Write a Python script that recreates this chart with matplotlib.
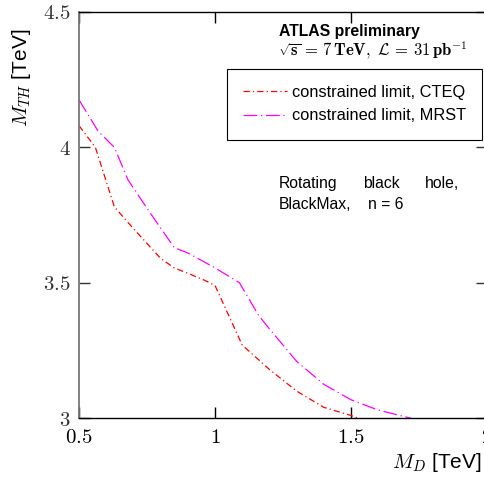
import matplotlib
matplotlib.use("Agg")
import matplotlib.pyplot as plt

plt.rcParams['font.family'] = ['Liberation Sans', 'DejaVu Sans']
plt.rcParams['mathtext.fontset'] = 'cm'

# Datos
md_cteq = [0.5, 0.56, 0.63, 0.70, 0.80, 0.85, 0.90, 0.96, 1.0, 1.05, 1.10, 1.20, 1.30, 1.40, 1.50, 1.55]
mth_cteq = [4.08, 4.0, 3.78, 3.70, 3.59, 3.555, 3.535, 3.51, 3.49, 3.38, 3.27, 3.18, 3.10, 3.04, 3.01, 2.99]

md_mrst = [0.5, 0.57, 0.63, 0.68, 0.76, 0.85, 0.90, 1.0, 1.09, 1.16, 1.20, 1.30, 1.40, 1.50, 1.60, 1.72]
mth_mrst = [4.175, 4.06, 4.0, 3.88, 3.76, 3.63, 3.61, 3.555, 3.5, 3.38, 3.33, 3.21, 3.125, 3.068, 3.03, 3.0]

xticks = [0.5, 1, 1.5, 2]
xtick_labels = ['$0.5$', '$1$', '$1.5$', '$2$']
yticks = [3, 3.5, 4, 4.5]
ytick_labels = ['$3$', '$3.5$', '$4$', '$4.5$']

fig = plt.figure(figsize=(4.85, 4.79), dpi=100)
ax = fig.add_axes([0.163, 0.127, 0.841, 0.848])

ax.plot(md_cteq, mth_cteq, color='#ff0000', lw=0.9, dashes=(5, 2.5, 1, 2.5),
        label='constrained limit, CTEQ')
ax.plot(md_mrst, mth_mrst, color='#ff00ff', lw=0.9, dashes=(11, 3, 1, 3),
        label='constrained limit, MRST')

ax.set_xlim(0.5, 2)
ax.set_ylim(3, 4.5)
ax.set_xticks(xticks)
ax.set_xticklabels(xtick_labels, fontsize=15)
ax.set_yticks(yticks)
ax.set_yticklabels(ytick_labels, fontsize=15)
ax.tick_params(direction='in', length=8, width=1, top=True, right=True)
ax.tick_params(axis='x', pad=7)
ax.tick_params(axis='y', colors='#333333', pad=6)
ax.spines['left'].set_color('#777777')
ax.spines['left'].set_linewidth(1.3)
for s in ['top', 'bottom', 'right']:
    ax.spines[s].set_linewidth(1.0)

leg = ax.legend(loc='upper right', bbox_to_anchor=(0.988, 0.86), fontsize=11.8,
                frameon=True, fancybox=False, edgecolor='black', framealpha=1,
                borderaxespad=0, handlelength=2.7, handletextpad=0.25,
                borderpad=1.0, labelspacing=0.5)
leg.get_frame().set_linewidth(0.8)

ax.text(1.234, 4.428, 'ATLAS preliminary', fontsize=11.3, fontweight='bold',
        va='center', ha='left')
ax.text(1.232, 4.36,
        r'$\sqrt{\mathbf{s}}\mathbf{\,=\,7\,TeV,}\ \mathcal{L}\mathbf{\,=\,31\,pb^{-1}}$',
        fontsize=12, va='center', ha='left')

ax.text(1.234, 3.865, 'Rotating', fontsize=11.3, va='center', ha='left')
ax.text(1.544, 3.865, 'black', fontsize=11.3, va='center', ha='left')
ax.text(1.898, 3.865, 'hole,', fontsize=11.3, va='center', ha='right')
ax.text(1.234, 3.79, 'BlackMax,', fontsize=11.3, va='center', ha='left')
ax.text(1.563, 3.79, 'n = 6', fontsize=11.3, va='center', ha='left')

fig.text(22 / 485, 1 - 78 / 479, r'$M_{TH}$ [TeV]', rotation=90, fontsize=15,
         ha='center', va='center')
fig.text(482 / 485, 1 - 463 / 479, r'$M_D$ [TeV]', fontsize=15,
         ha='right', va='center')

fig.savefig('out.png', dpi=100)
